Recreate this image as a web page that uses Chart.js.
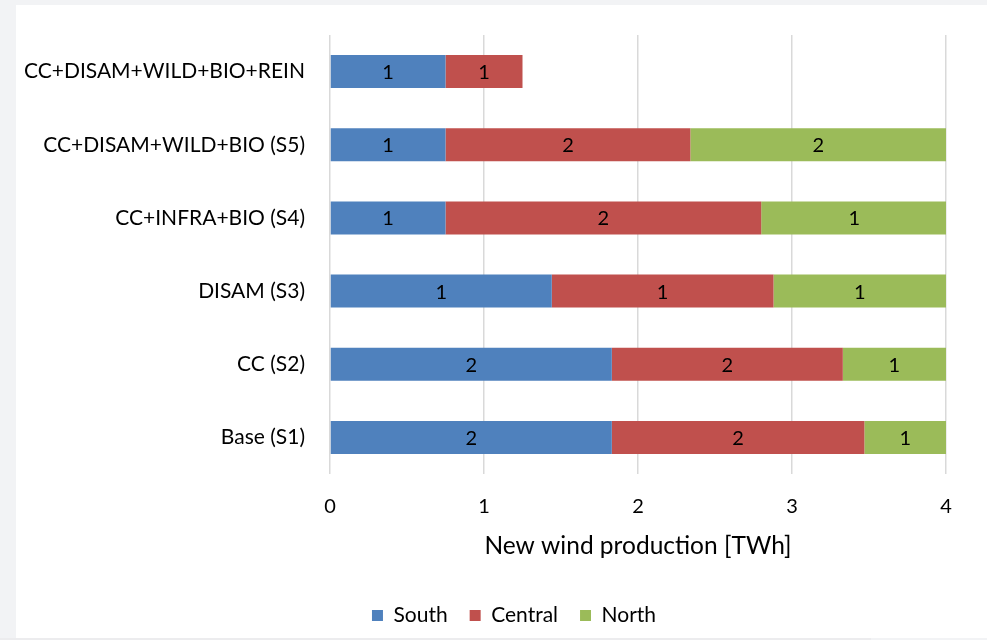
<!DOCTYPE html>
<html>
<head>
<meta charset="utf-8">
<script src="https://cdn.jsdelivr.net/npm/chart.js@4/dist/chart.umd.min.js"></script>
<style>
  html, body { margin: 0; padding: 0; background: #f2f3f5; }
  body { width: 987px; height: 640px; position: relative; overflow: hidden; }
  #panel { position: absolute; left: 16px; top: 5px; width: 971px; height: 633px; background: #ffffff; }
  #bottomEdge { position: absolute; left: 0; top: 638px; width: 871px; height: 2px; background: #ececee; }
</style>
</head>
<body>
<div id="panel"><canvas id="chart"></canvas></div>
<div id="bottomEdge"></div>
<script>
// Scenarios (top to bottom) and new wind production per region, TWh
const scenarios = [
  'CC+DISAM+WILD+BIO+REIN',
  'CC+DISAM+WILD+BIO (S5)',
  'CC+INFRA+BIO (S4)',
  'DISAM (S3)',
  'CC (S2)',
  'Base (S1)'
];
const south   = [0.75, 0.75, 0.75, 1.44, 1.83, 1.83];
const central = [0.50, 1.59, 2.05, 1.44, 1.50, 1.64];
const north   = [null, 1.66, 1.21, 1.12, 0.67, 0.53];
const xTicks  = [0, 1, 2, 3, 4];

const FONT = "Lato, 'Open Sans', sans-serif";
const TEXT = '#000000';

// Writes each segment's value, rounded to a whole TWh, in the middle of the segment
const segmentLabels = {
  id: 'segmentLabels',
  afterDatasetsDraw(chart) {
    const ctx = chart.ctx;
    ctx.save();
    ctx.font = '20px ' + FONT;
    ctx.fillStyle = TEXT;
    ctx.textAlign = 'center';
    ctx.textBaseline = 'middle';
    chart.data.datasets.forEach((ds, i) => {
      const meta = chart.getDatasetMeta(i);
      if (meta.hidden) return;
      meta.data.forEach((bar, j) => {
        const v = ds.data[j];
        if (v === null || v === undefined) return;
        const cx = (bar.x + bar.base) / 2;
        ctx.fillText(String(Math.round(v)), cx, bar.y + 1);
      });
    });
    ctx.restore();
  }
};

// Centres the legend row under the whole figure rather than under the full canvas width
const legendOffset = {
  id: 'legendOffset',
  afterLayout(chart) {
    if (chart.legend) chart.legend.left = 66;
  }
};

new Chart(document.getElementById('chart'), {
  type: 'bar',
  data: {
    labels: scenarios,
    datasets: [
      { label: 'South',   data: south,   backgroundColor: '#4f81bd' },
      { label: 'Central', data: central, backgroundColor: '#c0504d' },
      { label: 'North',   data: north,   backgroundColor: '#9bbb59' }
    ]
  },
  options: {
    indexAxis: 'y',
    responsive: true,
    maintainAspectRatio: false,
    animation: false,
    datasets: { bar: { categoryPercentage: 1, barPercentage: 0.452, borderWidth: 0 } },
    layout: { padding: { top: 30, right: 41, bottom: 2, left: 0 } },
    scales: {
      x: {
        stacked: true,
        min: 0,
        max: 4,
        afterBuildTicks(scale) { scale.ticks = xTicks.map(v => ({ value: v })); },
        afterFit(scale) { scale.height = 109; },
        grid: { color: '#d9d9d9', lineWidth: 1.5, drawTicks: false },
        border: { display: false },
        ticks: { color: TEXT, font: { family: FONT, size: 20 }, padding: 21 },
        title: {
          display: true,
          text: 'New wind production [TWh]',
          color: TEXT,
          font: { family: FONT, size: 24.5 },
          padding: { top: 0, bottom: 22 }
        }
      },
      y: {
        stacked: true,
        afterFit(scale) {
          scale.width = 314;
          scale.paddingTop = 0;
          scale.paddingBottom = 0;
        },
        grid: { display: false, drawTicks: false },
        border: { display: false },
        ticks: { color: TEXT, font: { family: FONT, size: 21 }, padding: 25 }
      }
    },
    plugins: {
      legend: {
        position: 'bottom',
        labels: {
          color: TEXT,
          font: { family: FONT, size: 21 },
          boxWidth: 11,
          boxHeight: 11,
          padding: 22
        }
      },
      tooltip: { enabled: false }
    }
  },
  plugins: [segmentLabels, legendOffset]
});
</script>
</body>
</html>
